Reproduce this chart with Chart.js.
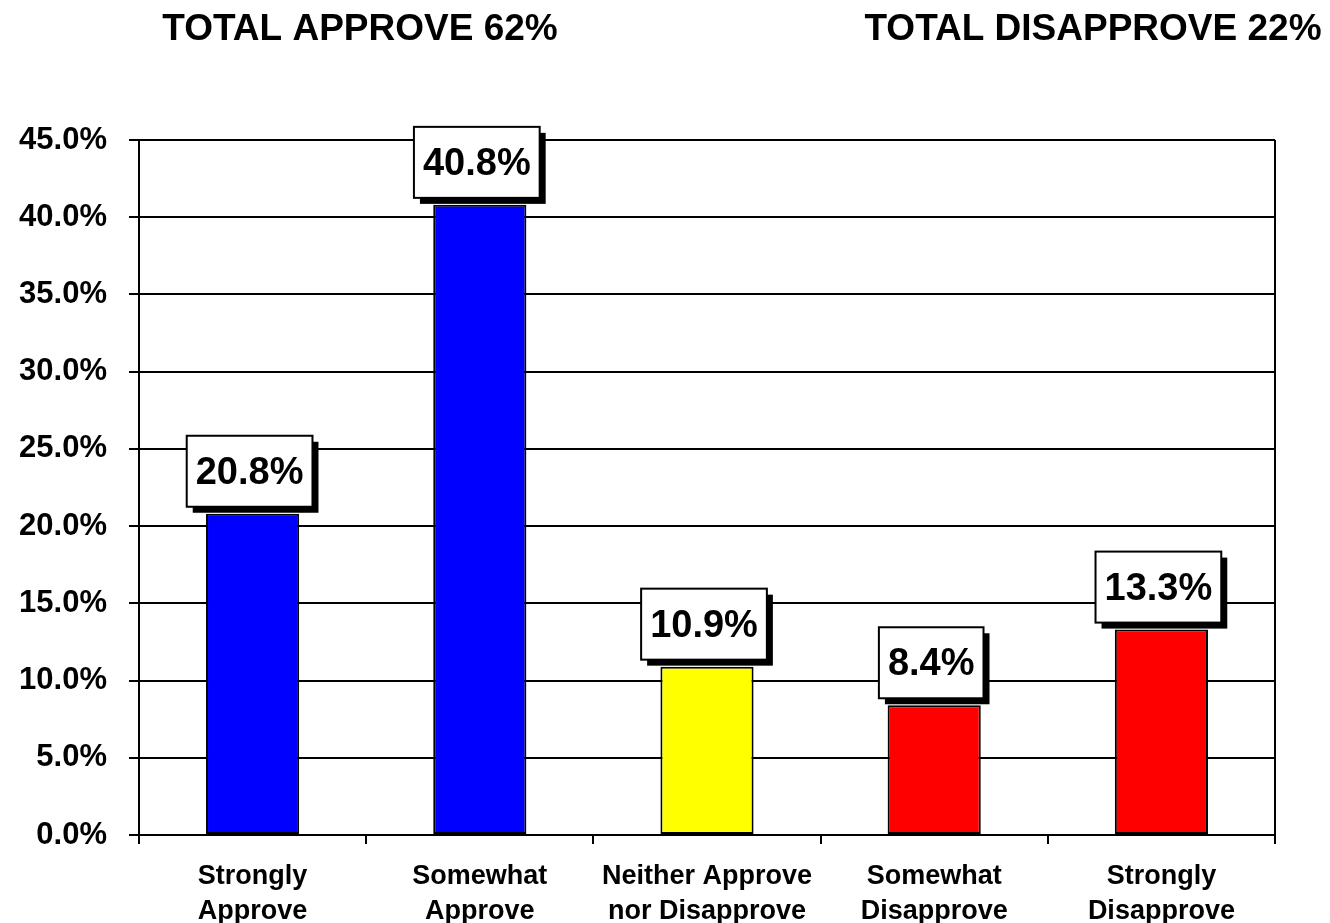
<!DOCTYPE html>
<html>
<head>
<meta charset="utf-8">
<script src="https://cdn.jsdelivr.net/npm/chart.js@4.4.1/dist/chart.umd.min.js"></script>
<style>
  html, body { margin: 0; padding: 0; background: #fff; }
  canvas { display: block; }
</style>
</head>
<body>
<canvas id="approval" width="1330" height="923"></canvas>
<script>
const categories = [
  ['Strongly', 'Approve'],
  ['Somewhat', 'Approve'],
  ['Neither Approve', 'nor Disapprove'],
  ['Somewhat', 'Disapprove'],
  ['Strongly', 'Disapprove']
]
const values = [20.8, 40.8, 10.9, 8.4, 13.3]
const barColors = ['#0000FF', '#0000FF', '#FFFF00', '#FF0000', '#FF0000']
const headlines = ['TOTAL APPROVE 62%', 'TOTAL DISAPPROVE 22%']

const FONT = '"Liberation Sans", Arial, sans-serif'
Chart.defaults.font.family = FONT
Chart.defaults.color = '#000'

// headlines above the plot + right border
const headlinePlugin = {
  id: 'headlines',
  afterDraw(chart) {
    const { ctx, chartArea } = chart
    ctx.save()
    ctx.fillStyle = '#000'
    ctx.font = `bold 37px ${FONT}`
    ctx.textAlign = 'center'
    ctx.textBaseline = 'alphabetic'
    ctx.fillText(headlines[0], 360, 40)
    ctx.fillText(headlines[1], 1093, 40)

    ctx.strokeStyle = '#000'
    ctx.lineWidth = 2
    ctx.beginPath()
    ctx.moveTo(chartArea.right, chartArea.top)
    ctx.lineTo(chartArea.right, chartArea.bottom)
    ctx.stroke()
    ctx.restore()
  }
}

// boxed value labels with drop shadow
const boxLabelPlugin = {
  id: 'boxLabels',
  afterDatasetsDraw(chart) {
    const { ctx } = chart
    const meta = chart.getDatasetMeta(0)
    ctx.save()
    ctx.font = `bold 38px ${FONT}`
    ctx.textAlign = 'center'
    ctx.textBaseline = 'middle'
    meta.data.forEach((bar, i) => {
      const text = values[i].toFixed(1) + '%'
      const w = ctx.measureText(text).width + 18
      const h = 71
      const cx = bar.x - 3
      const bottom = bar.y - 7
      const x = cx - w / 2
      const y = bottom - h
      ctx.fillStyle = '#000'
      ctx.fillRect(x + 6, y + 6, w, h)
      ctx.fillStyle = '#fff'
      ctx.fillRect(x, y, w, h)
      ctx.strokeStyle = '#000'
      ctx.lineWidth = 2
      ctx.strokeRect(x, y, w, h)
      ctx.fillStyle = '#000'
      ctx.fillText(text, cx, y + h / 2 + 2)
    })
    ctx.restore()
  }
}

const ctx = document.getElementById('approval').getContext('2d')

new Chart(ctx, {
  type: 'bar',
  data: {
    labels: categories,
    datasets: [
      {
        data: values,
        backgroundColor: barColors,
        borderColor: '#000',
        borderWidth: 2,
        borderSkipped: false,
        barPercentage: 0.41,
        categoryPercentage: 1
      }
    ]
  },
  options: {
    responsive: false,
    animation: false,
    layout: {
      padding: { left: 0, right: 55, top: 140, bottom: 0 }
    },
    scales: {
      y: {
        min: 0,
        max: 45,
        afterFit: scale => { scale.width = 139 },
        ticks: {
          stepSize: 5,
          padding: 22,
          color: '#000',
          font: { size: 31, weight: 'bold' },
          callback: v => v.toFixed(1) + '%'
        },
        grid: {
          color: '#000',
          lineWidth: 2,
          tickLength: 10
        },
        border: { display: true, color: '#000', width: 2 }
      },
      x: {
        afterFit: scale => { scale.height = 88 },
        ticks: {
          padding: 15,
          color: '#000',
          maxRotation: 0,
          autoSkip: false,
          font: { size: 27, weight: 'bold', lineHeight: 1.3 }
        },
        grid: {
          offset: true,
          drawOnChartArea: false,
          drawTicks: true,
          tickLength: 9,
          color: '#000',
          lineWidth: 2
        },
        border: { display: true, color: '#000', width: 2 }
      }
    },
    plugins: {
      legend: { display: false },
      tooltip: { enabled: false },
      title: { display: false }
    }
  },
  plugins: [headlinePlugin, boxLabelPlugin]
})
</script>
</body>
</html>
